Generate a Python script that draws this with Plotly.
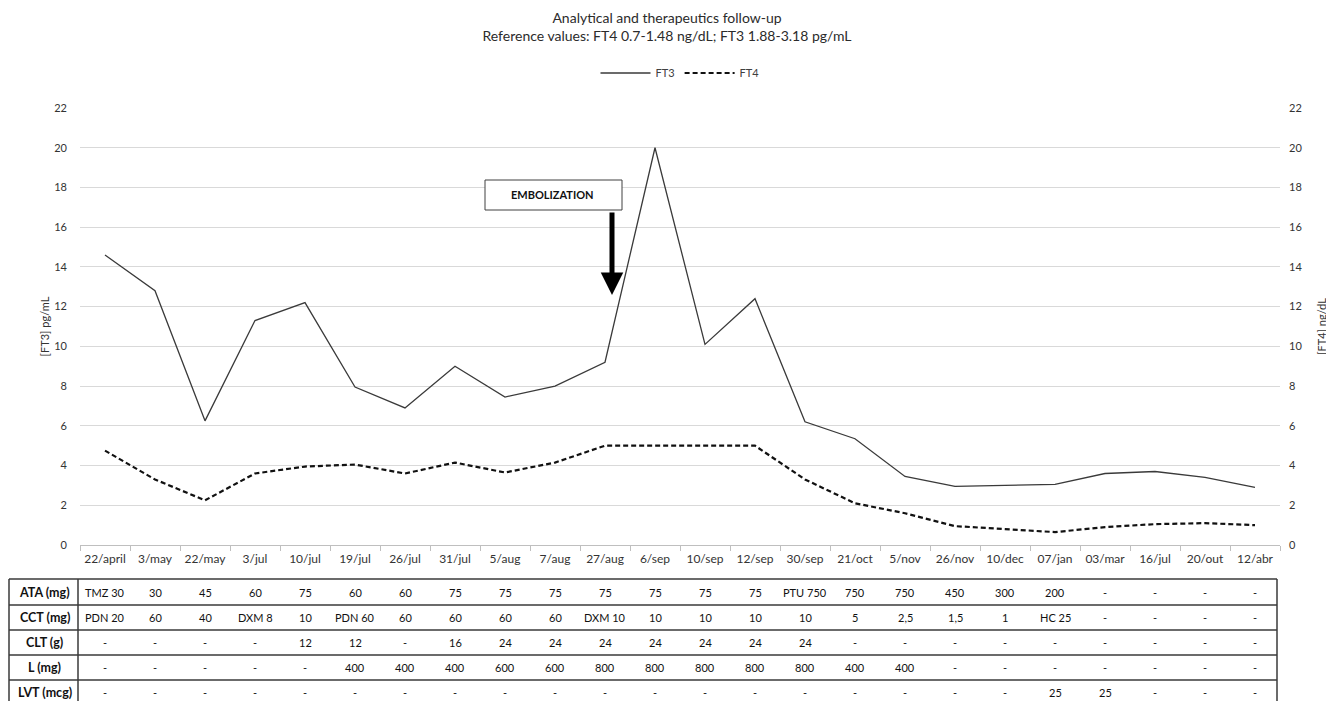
import plotly.graph_objects as go

dates = ["22/april", "3/may", "22/may", "3/jul", "10/jul", "19/jul", "26/jul", "31/jul",
         "5/aug", "7/aug", "27/aug", "6/sep", "10/sep", "12/sep", "30/sep", "21/oct",
         "5/nov", "26/nov", "10/dec", "07/jan", "03/mar", "16/jul", "20/out", "12/abr"]

ft3 = [14.6, 12.8, 6.25, 11.3, 12.2, 7.95, 6.9, 9.0, 7.45, 8.0, 9.2, 20.0,
       10.1, 12.4, 6.2, 5.35, 3.45, 2.95, 3.0, 3.05, 3.6, 3.7, 3.4, 2.9]
ft4 = [4.75, 3.3, 2.25, 3.6, 3.95, 4.05, 3.6, 4.15, 3.65, 4.15, 5.0, 5.0,
       5.0, 5.0, 3.3, 2.1, 1.6, 0.95, 0.8, 0.65, 0.9, 1.05, 1.1, 1.0]

row_labels = ["ATA (mg)", "CCT (mg)", "CLT (g)", "L (mg)", "LVT (mcg)"]
ata = ["TMZ 30", "30", "45", "60", "75", "60", "60", "75", "75", "75", "75", "75",
       "75", "75", "PTU 750", "750", "750", "450", "300", "200", "-", "-", "-", "-"]
cct = ["PDN 20", "60", "40", "DXM 8", "10", "PDN 60", "60", "60", "60", "60", "DXM 10", "10",
       "10", "10", "10", "5", "2,5", "1,5", "1", "HC 25", "-", "-", "-", "-"]
clt = ["-", "-", "-", "-", "12", "12", "-", "16", "24", "24", "24", "24",
       "24", "24", "24", "-", "-", "-", "-", "-", "-", "-", "-", "-"]
l_mg = ["-", "-", "-", "-", "-", "400", "400", "400", "600", "600", "800", "800",
        "800", "800", "800", "400", "400", "-", "-", "-", "-", "-", "-", "-"]
lvt = ["-", "-", "-", "-", "-", "-", "-", "-", "-", "-", "-", "-",
       "-", "-", "-", "-", "-", "-", "-", "25", "25", "-", "-", "-"]
table_rows = [ata, cct, clt, l_mg, lvt]

y_ticks = list(range(0, 23, 2))

FONT = "Lato, 'Open Sans', sans-serif"
OFF = 8                      # page body margin
SW, SH = 1334, 701           # screenshot size
W, H = SW - OFF, SH - OFF    # figure size
L, R, T, B = 80, 1280, 108, 545  # plot area in screenshot pixels


def px(X):
    return (X - L) / (R - L)


def py(Y):
    return (B - Y) / (B - T)


fig = go.Figure()
fig.add_trace(go.Scatter(x=dates, y=ft3, name="FT3", mode="lines",
                         line=dict(color="#3a3a3a", width=1.3)))
fig.add_trace(go.Scatter(x=dates, y=ft4, name="FT4", mode="lines", yaxis="y2",
                         line=dict(color="#111111", width=2.2, dash="5px,3px")))

fig.update_layout(
    width=W, height=H,
    margin=dict(l=L - OFF, r=SW - R, t=T - OFF, b=SH - B, autoexpand=False),
    paper_bgcolor="white", plot_bgcolor="white",
    font=dict(family=FONT, color="#404040", size=12),
    title=dict(text="Analytical and therapeutics follow-up<br>Reference values: FT4 0.7-1.48 ng/dL; FT3 1.88-3.18 pg/mL",
               x=(667 - OFF) / W, xanchor="center", y=1 - (23 - OFF) / H, yanchor="middle",
               font=dict(size=14, color="#2b2b2b", family=FONT)),
    showlegend=True,
    legend=dict(orientation="h", x=px(680), xanchor="center", y=py(73), yanchor="middle",
                itemwidth=50,
                font=dict(size=11, color="#404040"), bgcolor="rgba(0,0,0,0)"),
    xaxis=dict(type="category", categoryorder="array", categoryarray=dates,
               range=[-0.5, len(dates) - 0.5],
               showline=True, linecolor="#bfbfbf", linewidth=1.3,
               ticks="outside", tickson="boundaries", ticklen=5, tickcolor="#bfbfbf",
               showgrid=False, tickangle=0, tickfont=dict(size=12, color="#333333"),
               ticklabelstandoff=2),
    yaxis=dict(range=[0, 22], tickvals=y_ticks, showgrid=True, gridcolor="#d9d9d9", gridwidth=1.3,
               zeroline=False, showline=False, ticks="", ticklabelstandoff=12,
               tickfont=dict(size=11, color="#333333"),
               title=dict(text="[FT3] pg/mL", font=dict(size=11, color="#333333"), standoff=2)),
    yaxis2=dict(range=[0, 22], tickvals=y_ticks, overlaying="y", side="right", showgrid=False,
                zeroline=False, showline=False, ticks="", ticklabelstandoff=8,
                tickfont=dict(size=11, color="#333333"),
                title=dict(text="[FT4] ng/dL", font=dict(size=11, color="#333333"), standoff=16)),
)

# Embolization box and arrow
fig.add_shape(type="rect", xref="paper", yref="paper",
              x0=px(485), x1=px(622), y0=py(210), y1=py(180),
              line=dict(color="#404040", width=1), fillcolor="white", layer="above")
fig.add_annotation(xref="paper", yref="paper", x=px(552), y=py(194), xanchor="center", yanchor="middle",
                   text="<b>EMBOLIZATION</b>", showarrow=False, font=dict(size=11, color="#111111"))
fig.add_annotation(xref="paper", yref="paper", x=px(612), y=py(295), text="",
                   showarrow=True, ax=0, ay=-84, axref="pixel", ayref="pixel",
                   arrowhead=2, arrowsize=0.9, arrowwidth=5, arrowcolor="#000000")

# Table
line_col = "#3a3a3a"
tab_left, tab_split, tab_right = 9, 78, 1277
row_lines = [579, 605, 630, 655, 680]
for yl in row_lines:
    fig.add_shape(type="line", xref="paper", yref="paper",
                  x0=px(tab_left), x1=px(tab_right), y0=py(yl), y1=py(yl),
                  line=dict(color=line_col, width=1.5))
for xl in (tab_left, tab_split, tab_right):
    fig.add_shape(type="line", xref="paper", yref="paper",
                  x0=px(xl), x1=px(xl), y0=py(579), y1=py(705),
                  line=dict(color=line_col, width=1.5))

row_centers = [592, 617.5, 642.5, 667.5, 692]
for lab, vals, yc in zip(row_labels, table_rows, row_centers):
    fig.add_annotation(xref="paper", yref="paper", x=px((tab_left + tab_split) / 2 + 1), y=py(yc),
                       xanchor="center", yanchor="middle",
                       text="<b>" + lab + "</b>", showarrow=False,
                       font=dict(size=12.5, color="#111111"))
    for d, v in zip(dates, vals):
        fig.add_annotation(xref="x", yref="paper", x=d, y=py(yc), text=v, showarrow=False,
                           xanchor="center", yanchor="middle",
                           font=dict(size=11, color="#111111"))

fig.write_html("out.html")
